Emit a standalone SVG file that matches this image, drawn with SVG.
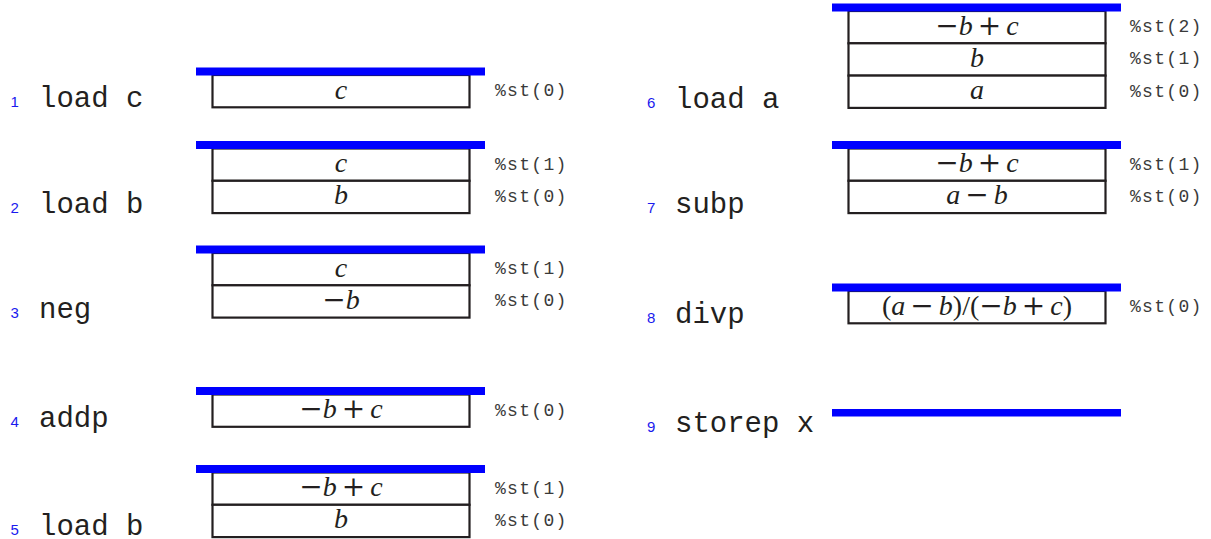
<svg xmlns="http://www.w3.org/2000/svg" width="1211" height="539" viewBox="0 0 1211 539">
<style>
.bg{fill:#ffffff}
.bar{fill:#0000ff}
.cell{fill:#ffffff;stroke:#231f20;stroke-width:2.2}
.num{font-family:"Liberation Sans",Arial,sans-serif;font-size:15px;fill:#1a1aee}
.ins{font-family:"Liberation Mono","Courier New",monospace;font-size:29px;fill:#231f20}
.reg{font-family:"Liberation Mono","Courier New",monospace;font-size:18px;letter-spacing:1.3px;fill:#3a3a3a}
.m{font-family:"Liberation Serif","Times New Roman",serif;font-style:italic;font-size:28px;fill:#231f20;text-anchor:middle}
.o{font-family:"DejaVu Serif",serif;font-style:normal}
.p{font-style:normal}
</style>
<rect class="bg" x="0" y="0" width="1211" height="539"/>
<g id="connectors"/>

<g id="step1">
<text class="num" x="10.5" y="107.3">1</text>
<text class="ins" x="39" y="107.3">load c</text>
<rect class="cell" x="212.5" y="75" width="257" height="32.3"/>
<rect class="bar" x="196" y="67.5" width="289" height="8"/>
<text class="m" x="341" y="98.5">c</text>
<text class="reg" x="495" y="96">%st(0)</text>
</g>

<g id="step2">
<text class="num" x="10.5" y="213.1">2</text>
<text class="ins" x="39" y="213.1">load b</text>
<rect class="cell" x="212.5" y="148.5" width="257" height="32.3"/>
<rect class="cell" x="212.5" y="180.8" width="257" height="32.3"/>
<rect class="bar" x="196" y="141" width="289" height="8"/>
<text class="m" x="341" y="172">c</text>
<text class="m" x="341" y="204.3">b</text>
<text class="reg" x="495" y="169.5">%st(1)</text>
<text class="reg" x="495" y="201.8">%st(0)</text>
</g>

<g id="step3">
<text class="num" x="10.5" y="317.6">3</text>
<text class="ins" x="39" y="317.6">neg</text>
<rect class="cell" x="212.5" y="253" width="257" height="32.3"/>
<rect class="cell" x="212.5" y="285.3" width="257" height="32.3"/>
<rect class="bar" x="196" y="245.5" width="289" height="8"/>
<text class="m" x="341" y="276.5">c</text>
<text class="m" x="341" y="308.8"><tspan class="o">−</tspan>b</text>
<text class="reg" x="495" y="274">%st(1)</text>
<text class="reg" x="495" y="306.3">%st(0)</text>
</g>

<g id="step4">
<text class="num" x="10.5" y="426.8">4</text>
<text class="ins" x="39" y="426.8">addp</text>
<rect class="cell" x="212.5" y="394.5" width="257" height="32.3"/>
<rect class="bar" x="196" y="387" width="289" height="8"/>
<text class="m" x="341" y="418"><tspan class="o">−</tspan>b<tspan class="o" dx="5">+</tspan><tspan dx="5">c</tspan></text>
<text class="reg" x="495" y="415.5">%st(0)</text>
</g>

<g id="step5">
<text class="num" x="10.5" y="535">5</text>
<text class="ins" x="39" y="535">load b</text>
<rect class="cell" x="212.5" y="472.5" width="257" height="32.3"/>
<rect class="cell" x="212.5" y="504.8" width="257" height="32.3"/>
<rect class="bar" x="196" y="465" width="289" height="8"/>
<text class="m" x="341" y="496"><tspan class="o">−</tspan>b<tspan class="o" dx="5">+</tspan><tspan dx="5">c</tspan></text>
<text class="m" x="341" y="528.3">b</text>
<text class="reg" x="495" y="493.5">%st(1)</text>
<text class="reg" x="495" y="525.8">%st(0)</text>
</g>

<g id="step6">
<text class="num" x="647" y="107.9">6</text>
<text class="ins" x="675" y="107.9">load a</text>
<rect class="cell" x="848.5" y="11" width="257" height="32.3"/>
<rect class="cell" x="848.5" y="43.3" width="257" height="32.3"/>
<rect class="cell" x="848.5" y="75.6" width="257" height="32.3"/>
<rect class="bar" x="832" y="3.5" width="289" height="8"/>
<text class="m" x="977" y="34.5"><tspan class="o">−</tspan>b<tspan class="o" dx="5">+</tspan><tspan dx="5">c</tspan></text>
<text class="m" x="977" y="66.8">b</text>
<text class="m" x="977" y="99.1">a</text>
<text class="reg" x="1130" y="32">%st(2)</text>
<text class="reg" x="1130" y="64.3">%st(1)</text>
<text class="reg" x="1130" y="96.6">%st(0)</text>
</g>

<g id="step7">
<text class="num" x="647" y="213.1">7</text>
<text class="ins" x="675" y="213.1">subp</text>
<rect class="cell" x="848.5" y="148.5" width="257" height="32.3"/>
<rect class="cell" x="848.5" y="180.8" width="257" height="32.3"/>
<rect class="bar" x="832" y="141" width="289" height="8"/>
<text class="m" x="977" y="172"><tspan class="o">−</tspan>b<tspan class="o" dx="5">+</tspan><tspan dx="5">c</tspan></text>
<text class="m" x="977" y="204.3">a<tspan class="o" dx="5">−</tspan><tspan dx="5">b</tspan></text>
<text class="reg" x="1130" y="169.5">%st(1)</text>
<text class="reg" x="1130" y="201.8">%st(0)</text>
</g>

<g id="step8">
<text class="num" x="647" y="322.5">8</text>
<text class="ins" x="675" y="322.5">divp</text>
<rect class="cell" x="848.5" y="291" width="257" height="32.3"/>
<rect class="bar" x="832" y="283.5" width="289" height="8"/>
<text class="m" x="977" y="314.5"><tspan class="p">(</tspan>a<tspan class="o" dx="5">−</tspan><tspan dx="5">b</tspan><tspan class="p">)/(</tspan><tspan class="o">−</tspan>b<tspan class="o" dx="5">+</tspan><tspan dx="5">c</tspan><tspan class="p">)</tspan></text>
<text class="reg" x="1130" y="312">%st(0)</text>
</g>

<g id="step9">
<text class="num" x="647" y="432">9</text>
<text class="ins" x="675" y="432">storep x</text>
<rect class="bar" x="832" y="409" width="289" height="7.5"/>
</g>
</svg>
